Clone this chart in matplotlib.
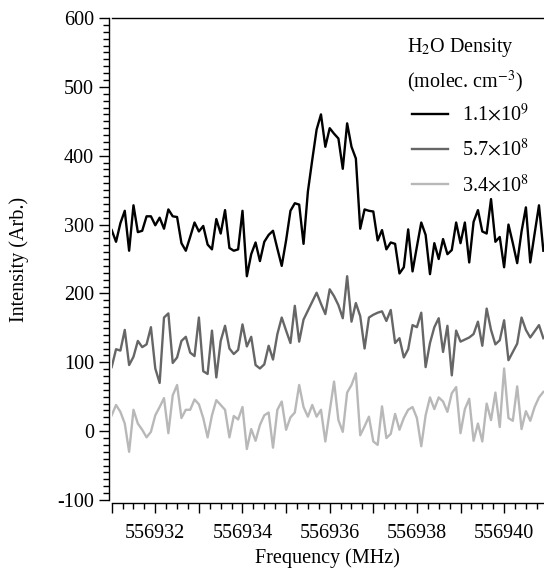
import numpy as np
import matplotlib
matplotlib.use("Agg")
import matplotlib.pyplot as plt
from matplotlib.ticker import MultipleLocator, FuncFormatter

plt.rcParams['font.family'] = ['Liberation Serif', 'DejaVu Serif']
plt.rcParams['mathtext.fontset'] = 'stix'

# frequency grid: 0.1 MHz steps
freq = 556931.0 + 0.1 * np.arange(100)

dens_hi = [292, 275, 302, 320, 262, 328, 289, 291, 312, 312,
           299, 310, 294, 322, 312, 311, 273, 262, 282, 303,
           290, 298, 271, 264, 308, 287, 321, 266, 262, 264,
           320, 225, 257, 274, 247, 275, 285, 291, 265, 240,
           277, 320, 331, 329, 272, 348, 394, 438, 460, 413,
           440, 432, 425, 381, 447, 413, 396, 294, 322, 320,
           319, 277, 292, 264, 274, 272, 229, 238, 293, 232,
           268, 303, 285, 228, 273, 250, 279, 257, 263, 303,
           273, 303, 245, 304, 321, 290, 287, 337, 275, 282,
           238, 300, 273, 244, 290, 325, 245, 287, 328, 262]

dens_mid = [93, 119, 117, 147, 96, 108, 131, 122, 126, 151,
            91, 70, 165, 171, 99, 107, 131, 137, 114, 109,
            165, 87, 83, 146, 78, 131, 153, 120, 112, 118,
            155, 123, 137, 96, 91, 97, 124, 104, 141, 165,
            146, 128, 182, 130, 162, 175, 188, 201, 185, 170,
            206, 196, 183, 164, 225, 159, 186, 167, 120, 165,
            169, 172, 174, 160, 176, 128, 135, 107, 119, 154,
            151, 172, 93, 128, 151, 164, 115, 153, 81, 146,
            130, 133, 136, 141, 159, 124, 178, 147, 126, 132,
            161, 103, 115, 127, 165, 147, 136, 145, 154, 135]

dens_lo = [23, 38, 28, 11, -30, 31, 11, 2, -9, -1,
           23, 35, 48, -3, 52, 67, 19, 31, 31, 46,
           39, 19, -9, 23, 45, 38, 31, -9, 22, 17,
           35, -26, 3, -14, 9, 23, 27, -24, 31, 43,
           2, 20, 27, 67, 35, 21, 38, 21, 31, -15,
           29, 72, 16, -1, 56, 67, 84, -6, 7, 21,
           -15, -20, 36, -10, -4, 25, 2, 19, 31, 35,
           19, -22, 23, 49, 32, 49, 43, 28, 55, 64,
           -3, 32, 47, -14, 11, -15, 40, 16, 56, 6,
           91, 19, 15, 65, 3, 29, 15, 35, 49, 57]

labels = [r'1.1$\times$10$^9$', r'5.7$\times$10$^8$', r'3.4$\times$10$^8$']
colors = ['#000000', '#666666', '#b8b8b8']
fs = 14.5

fig = plt.figure(figsize=(5.44, 5.72), dpi=100)
ax = fig.add_axes([0.2053, 0.1259, 0.7947, 0.8426])

for y, lab, c in zip([dens_hi, dens_mid, dens_lo], labels, colors):
    ax.plot(freq, y, color=c, lw=1.7, label=lab)

ax.set_xlim(556931.0, 556940.915)
ax.set_ylim(-100, 600)

ax.spines['right'].set_visible(False)
ax.spines['left'].set_position(('outward', 2.2))
ax.spines['bottom'].set_position(('outward', 2.2))
for s in ax.spines.values():
    s.set_linewidth(1.0)

ax.xaxis.set_major_locator(MultipleLocator(1))
ax.xaxis.set_minor_locator(MultipleLocator(0.25))
ax.xaxis.set_major_formatter(FuncFormatter(
    lambda v, p: '%d' % round(v) if round(v) % 2 == 0 else ''))
ax.yaxis.set_major_locator(MultipleLocator(100))
ax.yaxis.set_minor_locator(MultipleLocator(10))
ax.yaxis.set_major_formatter(FuncFormatter(lambda v, p: '%d' % v))

ax.tick_params(which='major', length=7, width=1.0, labelsize=fs, direction='out')
ax.tick_params(axis='x', which='major', pad=8)
ax.tick_params(which='minor', length=4, width=1.0, direction='out')
ax.tick_params(top=False, right=False)

ax.set_xlabel('Frequency (MHz)', fontsize=fs, labelpad=4)
ax.set_ylabel('Intensity (Arb.)', fontsize=fs, labelpad=20)

# legend title as two text lines, entries below
ax.text(0.683, 0.938, 'H$_2$O Density', transform=ax.transAxes,
        fontsize=fs, va='center', ha='left')
ax.text(0.683, 0.867, '(molec. cm$^{-3}$)', transform=ax.transAxes,
        fontsize=fs, va='center', ha='left')
ax.legend(frameon=False, loc='upper left', bbox_to_anchor=(0.695, 0.822),
          borderaxespad=0, borderpad=0, fontsize=fs, handlelength=1.8,
          handletextpad=0.7, labelspacing=0.65)

fig.savefig('out.png', dpi=100)
